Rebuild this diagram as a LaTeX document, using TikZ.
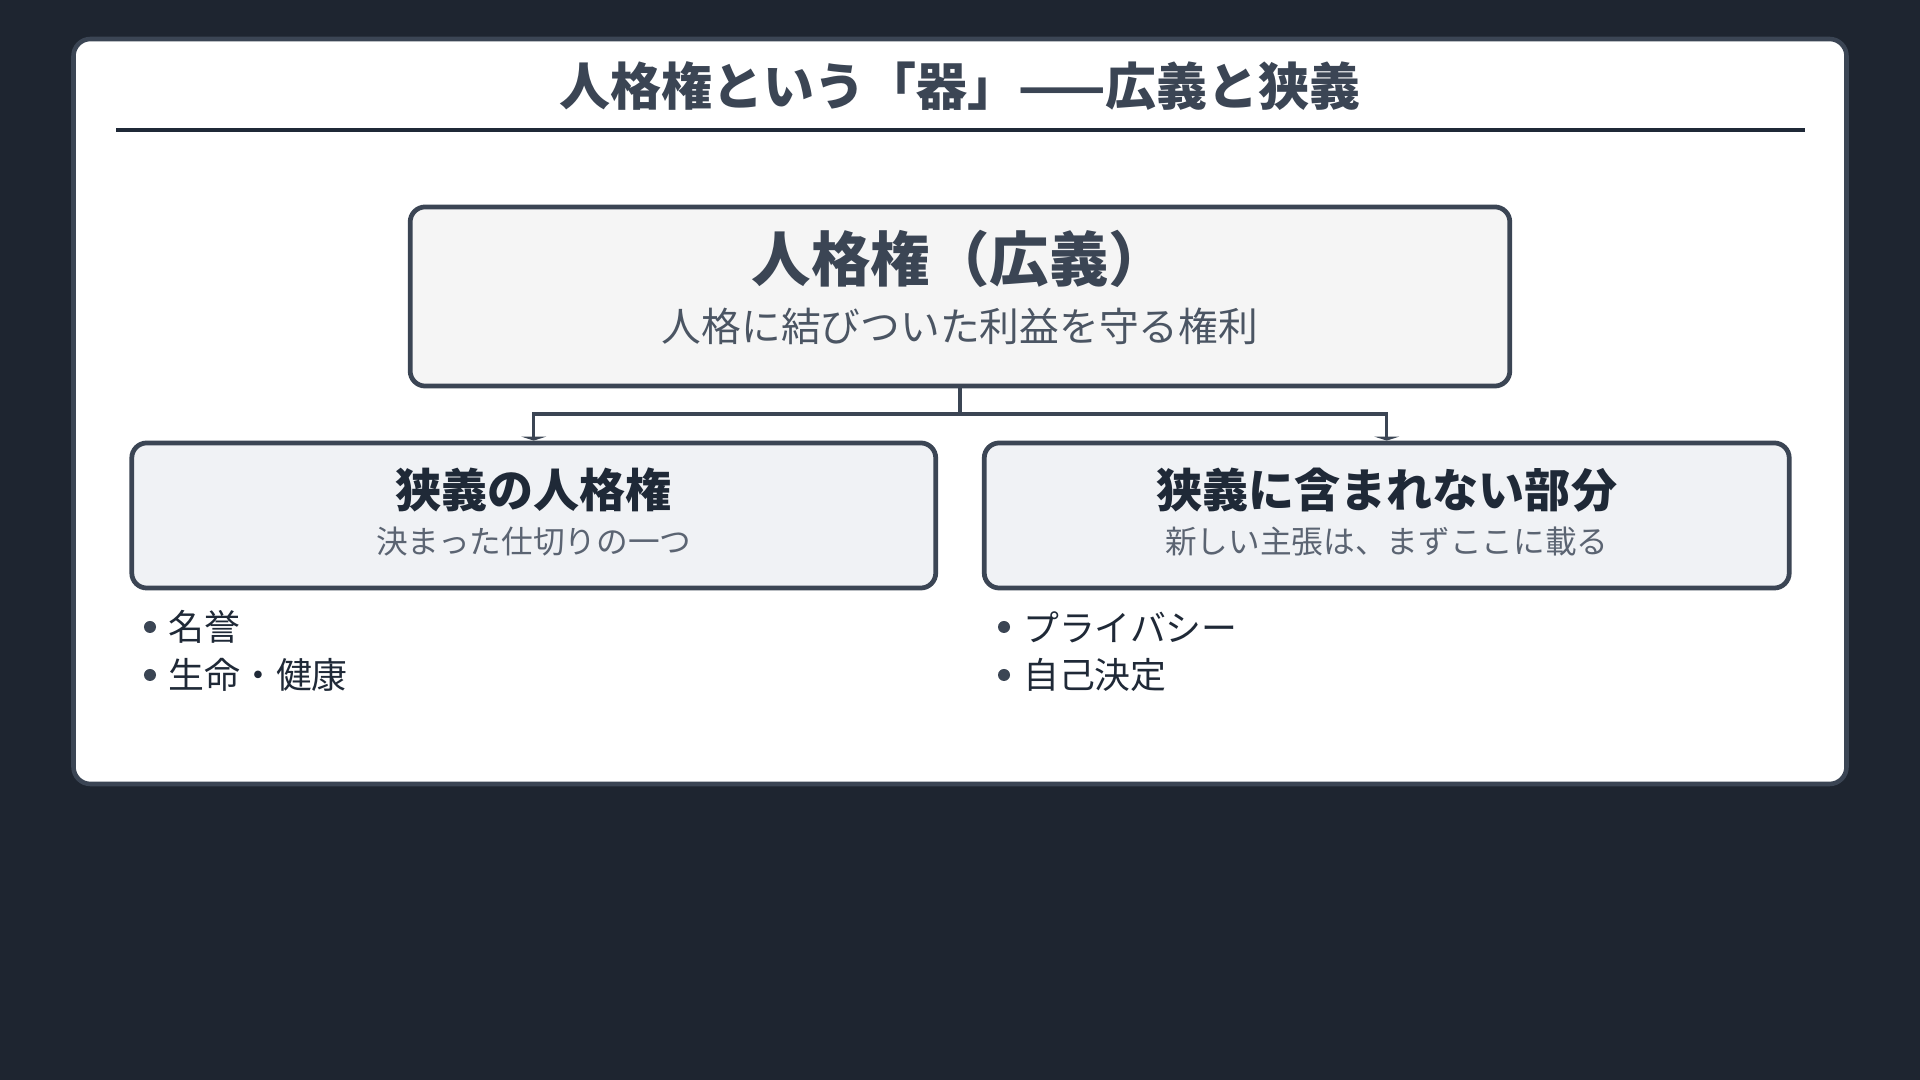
\documentclass[tikz,border=0pt]{standalone}
\usepackage{fontspec}
\setmainfont{Noto Sans CJK JP}
\usetikzlibrary{arrows.meta,positioning}

\definecolor{bgdark}{HTML}{1E2530}
\definecolor{frame}{HTML}{3B4554}
\definecolor{topfill}{HTML}{F5F5F5}
\definecolor{subfill}{HTML}{F0F2F5}
\definecolor{inkdark}{HTML}{1F2937}
\definecolor{inkgray}{HTML}{4B5563}
\definecolor{inklight}{HTML}{5B6472}

\tikzset{
  box/.style={draw=frame, line width=1.35pt, rounded corners=0.15cm, inner sep=0pt},
  link/.style={draw=frame, line width=0.9pt, -{Triangle[width=0.25cm,length=0.04cm]}},
  item/.style={anchor=west, inner sep=0pt, text=inkdark, font=\fontsize{10.2pt}{12pt}\selectfont},
  dot/.style={circle, fill=frame, inner sep=0pt, minimum size=0.12cm}
}

\begin{document}
\begin{tikzpicture}[x=0.01cm, y=-0.01cm]
\useasboundingbox[fill=bgdark] (0,0) rectangle (1920,1080);

% panel
\draw[draw=frame, fill=white, line width=1.3pt, rounded corners=0.17cm] (73.5,39) rectangle (1846.5,784);

% title
\node[inner sep=0pt, text=frame, font=\fontsize{14.5pt}{16pt}\selectfont\bfseries] (title) at (960,86) {人格権という「器」——広義と狭義};
\coordinate (ruleL) at (116,130);
\coordinate (ruleR) at (1805,130);
\draw[draw=inkdark, line width=0.9pt] (ruleL) -- (ruleR);

% boxes
\node[box, fill=topfill, minimum width=10.99cm, minimum height=1.79cm] (wide) at (960,296.5) {};
\node[box, fill=subfill, minimum width=8.035cm, minimum height=1.45cm] (narrow) at (533.75,515.5) {};
\node[box, fill=subfill, minimum width=8.045cm, minimum height=1.45cm] (outside) at (1386.75,515.5) {};

% texts
\node[inner sep=0pt, text=frame, font=\fontsize{16.9pt}{19pt}\selectfont\bfseries] (wideT) at (960,259) {人格権（広義）};
\node[inner sep=0pt, text=inkgray, font=\fontsize{11.3pt}{13pt}\selectfont] (wideS) at (960,326) {人格に結びついた利益を守る権利};
\node[inner sep=0pt, text=inkdark, font=\fontsize{13.1pt}{15pt}\selectfont\bfseries] (narrowT) at (533.75,490) {狭義の人格権};
\node[inner sep=0pt, text=inklight, font=\fontsize{9pt}{11pt}\selectfont] (narrowS) at (533.75,542) {決まった仕切りの一つ};
\node[inner sep=0pt, text=inkdark, font=\fontsize{13.1pt}{15pt}\selectfont\bfseries] (outsideT) at (1386.75,490) {狭義に含まれない部分};
\node[inner sep=0pt, text=inklight, font=\fontsize{9pt}{11pt}\selectfont] (outsideS) at (1386.75,542) {新しい主張は、まずここに載る};

% connectors
\coordinate (split) at (960,414);
\draw[draw=frame, line width=0.9pt] (wide.south) -- (split);
\draw[link] (split) -| (narrow.north);
\draw[link] (split) -| (outside.north);

% bullets
\node[dot] (d1) at (150,627) {};
\node[item] (i1) at (167.8,627) {名誉};
\node[dot] (d2) at (150,675) {};
\node[item] (i2) at (167.8,675) {生命・健康};
\node[dot] (d3) at (1004,627) {};
\node[item] (i3) at (1022.5,627) {プライバシー};
\node[dot] (d4) at (1004,675) {};
\node[item] (i4) at (1022.5,675) {自己決定};
\end{tikzpicture}
\end{document}
